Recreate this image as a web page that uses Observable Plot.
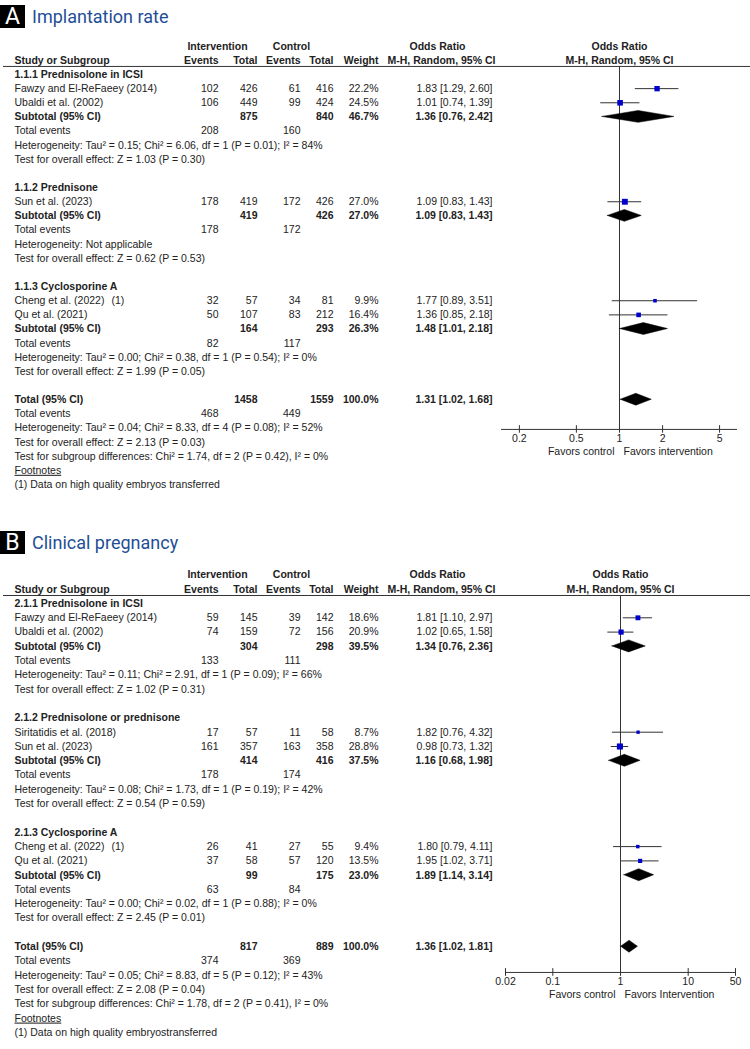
<!DOCTYPE html>
<html><head><meta charset="utf-8">
<script src="https://cdn.jsdelivr.net/npm/d3@7"></script>
<script src="https://cdn.jsdelivr.net/npm/@observablehq/plot@0.6"></script>
<style>
html,body{margin:0;padding:0;background:#fff;}
body{width:750px;height:1049px;position:relative;overflow:hidden;}
.abs{position:absolute;}
.title{position:absolute;left:0;height:23px;display:flex;align-items:center;}
.badge{width:25px;height:23px;background:#000;color:#fff;font:400 23px Roboto,sans-serif;display:flex;align-items:center;justify-content:center;line-height:23px;}
.ttext{margin-left:7px;color:#1f4e96;font:400 18px Roboto,sans-serif;white-space:nowrap;}
</style>
</head><body>
<script>
// ---------------- Panel A: Implantation rate ----------------
const groupsA = ["1.1.1 Prednisolone in ICSI", "1.1.2 Prednisone", "1.1.3 Cyclosporine A"];
const studiesA = ["Fawzy and El-ReFaeey (2014)", "Ubaldi et al. (2002)", "Sun et al. (2023)", "Cheng et al. (2022)", "Qu et al. (2021)"];
const studyGroupA = [0, 0, 1, 2, 2];
const studyNoteA = ["", "", "", "(1)", ""];
const intEventsA = [102, 106, 178, 32, 50];
const intTotalA = [426, 449, 419, 57, 107];
const ctlEventsA = [61, 99, 172, 34, 83];
const ctlTotalA = [416, 424, 426, 81, 212];
const weightA = [22.2, 24.5, 27.0, 9.9, 16.4];
const orA = [1.83, 1.01, 1.09, 1.77, 1.36];
const loA = [1.29, 0.74, 0.83, 0.89, 0.85];
const hiA = [2.60, 1.39, 1.43, 3.51, 2.18];
const subIntTotalA = [875, 419, 164];
const subCtlTotalA = [840, 426, 293];
const subWeightA = [46.7, 27.0, 26.3];
const subOrA = [1.36, 1.09, 1.48];
const subLoA = [0.76, 0.83, 1.01];
const subHiA = [2.42, 1.43, 2.18];
const subIntEventsA = [208, 178, 82];
const subCtlEventsA = [160, 172, 117];
const subHetA = [
  "Heterogeneity: Tau² = 0.15; Chi² = 6.06, df = 1 (P = 0.01); I² = 84%",
  "Heterogeneity: Not applicable",
  "Heterogeneity: Tau² = 0.00; Chi² = 0.38, df = 1 (P = 0.54); I² = 0%"];
const subTestA = [
  "Test for overall effect: Z = 1.03 (P = 0.30)",
  "Test for overall effect: Z = 0.62 (P = 0.53)",
  "Test for overall effect: Z = 1.99 (P = 0.05)"];
const totalCountsA = [1458, 1559];
const totalEffectA = [1.31, 1.02, 1.68];
const totalEventsA = [468, 449];
const totalTextsA = [
  "Heterogeneity: Tau² = 0.04; Chi² = 8.33, df = 4 (P = 0.08); I² = 52%",
  "Test for overall effect: Z = 2.13 (P = 0.03)",
  "Test for subgroup differences: Chi² = 1.74, df = 2 (P = 0.42), I² = 0%"];
const footnoteA = "(1) Data on high quality embryos transferred";
const ticksA = [0.2, 0.5, 1, 2, 5];
const favorsA = ["Favors control", "Favors intervention"];

// ---------------- Panel B: Clinical pregnancy ----------------
const groupsB = ["2.1.1 Prednisolone in ICSI", "2.1.2 Prednisolone or prednisone", "2.1.3 Cyclosporine A"];
const studiesB = ["Fawzy and El-ReFaeey (2014)", "Ubaldi et al. (2002)", "Siritatidis et al. (2018)", "Sun et al. (2023)", "Cheng et al. (2022)", "Qu et al. (2021)"];
const studyGroupB = [0, 0, 1, 1, 2, 2];
const studyNoteB = ["", "", "", "", "(1)", ""];
const intEventsB = [59, 74, 17, 161, 26, 37];
const intTotalB = [145, 159, 57, 357, 41, 58];
const ctlEventsB = [39, 72, 11, 163, 27, 57];
const ctlTotalB = [142, 156, 58, 358, 55, 120];
const weightB = [18.6, 20.9, 8.7, 28.8, 9.4, 13.5];
const orB = [1.81, 1.02, 1.82, 0.98, 1.80, 1.95];
const loB = [1.10, 0.65, 0.76, 0.73, 0.79, 1.02];
const hiB = [2.97, 1.58, 4.32, 1.32, 4.11, 3.71];
const subIntTotalB = [304, 414, 99];
const subCtlTotalB = [298, 416, 175];
const subWeightB = [39.5, 37.5, 23.0];
const subOrB = [1.34, 1.16, 1.89];
const subLoB = [0.76, 0.68, 1.14];
const subHiB = [2.36, 1.98, 3.14];
const subIntEventsB = [133, 178, 63];
const subCtlEventsB = [111, 174, 84];
const subHetB = [
  "Heterogeneity: Tau² = 0.11; Chi² = 2.91, df = 1 (P = 0.09); I² = 66%",
  "Heterogeneity: Tau² = 0.08; Chi² = 1.73, df = 1 (P = 0.19); I² = 42%",
  "Heterogeneity: Tau² = 0.00; Chi² = 0.02, df = 1 (P = 0.88); I² = 0%"];
const subTestB = [
  "Test for overall effect: Z = 1.02 (P = 0.31)",
  "Test for overall effect: Z = 0.54 (P = 0.59)",
  "Test for overall effect: Z = 2.45 (P = 0.01)"];
const totalCountsB = [817, 889];
const totalEffectB = [1.36, 1.02, 1.81];
const totalEventsB = [374, 369];
const totalTextsB = [
  "Heterogeneity: Tau² = 0.05; Chi² = 8.83, df = 5 (P = 0.12); I² = 43%",
  "Test for overall effect: Z = 2.08 (P = 0.04)",
  "Test for subgroup differences: Chi² = 1.78, df = 2 (P = 0.41), I² = 0%"];
const footnoteB = "(1) Data on high quality embryostransferred";
const ticksB = [0.02, 0.1, 1, 10, 50];
const favorsB = ["Favors control", "Favors Intervention"];

// shared header labels
const headerTop = ["Intervention", "Control", "Odds Ratio"];
const headerBottom = ["Study or Subgroup", "Events", "Total", "Events", "Total", "Weight", "M-H, Random, 95% CI"];

// ---------------- layout (pixels / row units) ----------------
const COL = {study: 14, note: 111, ie: 218, it: 257, ce: 300, ct: 333, w: 378, or: 492, intHead: 217, ctlHead: 291, orHead: 437};
const INK = "#222";

function buildRows(P) {
  const rows = [];
  let r = 0;
  P.groups.forEach((g, gi) => {
    rows.push({row: r++, label: g, bold: true});
    P.studies.forEach((s, i) => {
      if (P.studyGroup[i] !== gi) return;
      rows.push({row: r++, kind: "study", label: s, note: P.studyNote[i] || null,
        ie: P.intEvents[i], it: P.intTotal[i], ce: P.ctlEvents[i], ct: P.ctlTotal[i],
        w: P.weight[i], or: P.or[i], lo: P.lo[i], hi: P.hi[i], bold: false});
    });
    rows.push({row: r++, kind: "diamond", label: "Subtotal (95% CI)", it: P.subIntTotal[gi], ct: P.subCtlTotal[gi],
      w: P.subWeight[gi], or: P.subOr[gi], lo: P.subLo[gi], hi: P.subHi[gi], bold: true});
    rows.push({row: r++, label: "Total events", ie: P.subIntEvents[gi], ce: P.subCtlEvents[gi], bold: false});
    rows.push({row: r++, label: P.subHet[gi], bold: false});
    rows.push({row: r++, label: P.subTest[gi], bold: false});
    r++;
  });
  rows.push({row: r++, kind: "diamond", label: "Total (95% CI)", it: P.totalCounts[0], ct: P.totalCounts[1], w: 100,
    or: P.totalEffect[0], lo: P.totalEffect[1], hi: P.totalEffect[2], bold: true, total: true});
  rows.push({row: r++, label: "Total events", ie: P.totalEvents[0], ce: P.totalEvents[1], bold: false});
  P.totalTexts.forEach(t => rows.push({row: r++, label: t, bold: false}));
  rows.push({row: r++, label: "Footnotes", bold: false, underline: true});
  rows.push({row: r++, label: P.footnote, bold: false});
  return rows;
}

function drawPanel(P, L) {
  const rows = buildRows(P);
  const yScale = {domain: [0, L.nRows], range: [L.row0, L.row0 + L.rowH * L.nRows]};
  const style = {fontFamily: "'Liberation Sans', Arial, sans-serif", fontSize: "10.5px", color: INK, background: "transparent", overflow: "visible"};

  const txt = (field, xPos, anchor, fmt, bold) => Plot.text(
    rows.filter(d => d[field] != null && !!d.bold === bold),
    {x: () => xPos, y: "row", text: fmt, textAnchor: anchor, fontWeight: bold ? "bold" : "normal", fill: INK});
  const cols = [
    ["label", COL.study, "start", d => d.label],
    ["note", COL.note, "start", d => d.note],
    ["ie", COL.ie, "end", d => String(d.ie)],
    ["it", COL.it, "end", d => String(d.it)],
    ["ce", COL.ce, "end", d => String(d.ce)],
    ["ct", COL.ct, "end", d => String(d.ct)],
    ["w", COL.w, "end", d => d.w.toFixed(1) + "%"],
    ["or", COL.or, "end", d => `${d.or.toFixed(2)} [${d.lo.toFixed(2)}, ${d.hi.toFixed(2)}]`]
  ];
  const tableMarks = [];
  cols.forEach(([f, x, a, fmt]) => { tableMarks.push(txt(f, x, a, fmt, true)); tableMarks.push(txt(f, x, a, fmt, false)); });

  const headTop = [
    {t: P.headerTop[0], x: COL.intHead, a: "middle"},
    {t: P.headerTop[1], x: COL.ctlHead, a: "middle"},
    {t: P.headerTop[2], x: COL.orHead, a: "middle"}];
  const headBot = [
    {t: P.headerBottom[0], x: COL.study, a: "start"},
    {t: P.headerBottom[1], x: COL.ie, a: "end"},
    {t: P.headerBottom[2], x: COL.it, a: "end"},
    {t: P.headerBottom[3], x: COL.ce, a: "end"},
    {t: P.headerBottom[4], x: COL.ct, a: "end"},
    {t: P.headerBottom[5], x: COL.w, a: "end"},
    {t: P.headerBottom[6], x: COL.orHead + 4, a: "middle"}];

  const table = Plot.plot({
    width: 500, height: L.height, margin: 0,
    x: {type: "identity"}, y: yScale, axis: null, style,
    marks: [
      Plot.ruleY([L.hdrLine], {insetLeft: 3, stroke: "#333", strokeWidth: 1}),
      Plot.text(headTop.filter(d => d.a === "middle"), {x: "x", y: () => -2, text: "t", textAnchor: "middle", fontWeight: "bold", fill: INK}),
      Plot.text(headBot.filter(d => d.a === "start"), {x: "x", y: () => -1, text: "t", textAnchor: "start", fontWeight: "bold", fill: INK}),
      Plot.text(headBot.filter(d => d.a === "end"), {x: "x", y: () => -1, text: "t", textAnchor: "end", fontWeight: "bold", fill: INK}),
      Plot.text(headBot.filter(d => d.a === "middle"), {x: "x", y: () => -1, text: "t", textAnchor: "middle", fontWeight: "bold", fill: INK}),
      ...tableMarks
    ]
  });
  d3.select(table).selectAll("text").filter(function() { return this.textContent === "Footnotes"; })
    .attr("text-decoration", "underline");

  const studies = rows.filter(d => d.kind === "study");
  const diamonds = rows.filter(d => d.kind === "diamond");
  const diamondPts = diamonds.flatMap(d => [
    {id: d.row, x: d.lo, y1: d.row, y2: d.row},
    {id: d.row, x: d.or, y1: d.row - 0.42, y2: d.row + 0.42},
    {id: d.row, x: d.hi, y1: d.row, y2: d.row}]);
  const ax = L.axisRow;

  const forest = Plot.plot({
    width: 250, height: L.height, margin: 0,
    x: {type: "log", domain: L.xDomain, range: L.xRange},
    y: yScale,
    r: {type: "sqrt", domain: [0, 30], range: [0, 3.5]},
    axis: null, style,
    marks: [
      Plot.ruleY([L.hdrLine], {stroke: "#333", strokeWidth: 1}),
      Plot.text([P.headerTop[2]], {x: () => 1, y: () => -2, text: d => d, fontWeight: "bold", fill: INK}),
      Plot.text([P.headerBottom[6]], {x: () => 1, y: () => -1, text: d => d, fontWeight: "bold", fill: INK}),
      Plot.ruleX([1], {y1: L.hdrLine, y2: ax, stroke: "#333", strokeWidth: 1}),
      Plot.ruleY([ax], {x1: L.xDomain[0], x2: L.xDomain[1], stroke: "#333", strokeWidth: 1}),
      Plot.ruleX(P.ticks, {x: d => d, y1: ax - 0.27, y2: ax + 0.27, stroke: "#333", strokeWidth: 1}),
      Plot.text(P.ticks, {x: d => d, y: () => ax + 0.62, text: d => String(d), fill: INK}),
      Plot.text([P.favors[0]], {x: () => 1, y: () => ax + 1.55, text: d => d, textAnchor: "end", dx: -5, fill: INK}),
      Plot.text([P.favors[1]], {x: () => 1, y: () => ax + 1.55, text: d => d, textAnchor: "start", dx: 4, fill: INK}),
      Plot.ruleY(studies, {x1: "lo", x2: "hi", y: "row", stroke: "#333", strokeWidth: 1}),
      Plot.dot(studies, {x: "or", y: "row", r: "w", symbol: "square", fill: "#0000cc", stroke: "none"}),
      Plot.areaY(diamondPts, {x: "x", y1: "y1", y2: "y2", z: "id", fill: "#000", stroke: "#000", strokeWidth: 0.5})
    ]
  });

  const box = document.createElement("div");
  box.className = "abs";
  box.style.cssText = `left:0;top:${L.top}px;width:750px;height:${L.height}px;`;
  const a = document.createElement("div"); a.className = "abs"; a.style.cssText = `left:0;top:0;width:500px;height:${L.height}px;`; a.appendChild(table);
  const b = document.createElement("div"); b.className = "abs"; b.style.cssText = `left:500px;top:0;width:250px;height:${L.height}px;`; b.appendChild(forest);
  box.appendChild(a); box.appendChild(b);
  document.body.appendChild(box);

  const title = document.createElement("div");
  title.className = "title";
  title.style.top = L.titleTop + "px";
  title.innerHTML = `<div class="badge">${P.letter}</div><div class="ttext">${P.title}</div>`;
  document.body.appendChild(title);
}

const PA = {letter: "A", title: "Implantation rate", groups: groupsA, studies: studiesA, studyGroup: studyGroupA, studyNote: studyNoteA,
  intEvents: intEventsA, intTotal: intTotalA, ctlEvents: ctlEventsA, ctlTotal: ctlTotalA, weight: weightA, or: orA, lo: loA, hi: hiA,
  subIntTotal: subIntTotalA, subCtlTotal: subCtlTotalA, subWeight: subWeightA, subOr: subOrA, subLo: subLoA, subHi: subHiA,
  subIntEvents: subIntEventsA, subCtlEvents: subCtlEventsA, subHet: subHetA, subTest: subTestA,
  totalCounts: totalCountsA, totalEffect: totalEffectA, totalEvents: totalEventsA, totalTexts: totalTextsA, footnote: footnoteA,
  ticks: ticksA, favors: favorsA, headerTop, headerBottom};
const PB = {letter: "B", title: "Clinical pregnancy", groups: groupsB, studies: studiesB, studyGroup: studyGroupB, studyNote: studyNoteB,
  intEvents: intEventsB, intTotal: intTotalB, ctlEvents: ctlEventsB, ctlTotal: ctlTotalB, weight: weightB, or: orB, lo: loB, hi: hiB,
  subIntTotal: subIntTotalB, subCtlTotal: subCtlTotalB, subWeight: subWeightB, subOr: subOrB, subLo: subLoB, subHi: subHiB,
  subIntEvents: subIntEventsB, subCtlEvents: subCtlEventsB, subHet: subHetB, subTest: subTestB,
  totalCounts: totalCountsB, totalEffect: totalEffectB, totalEvents: totalEventsB, totalTexts: totalTextsB, footnote: footnoteB,
  ticks: ticksB, favors: favorsB, headerTop, headerBottom};

drawPanel(PA, {top: 30, height: 470, titleTop: 5, nRows: 30, row0: 44, rowH: 14.14, hdrLine: -0.57, axisRow: 25.1,
  xDomain: [0.15, 6.67], xRange: [1, 237]});
drawPanel(PB, {top: 560, height: 480, titleTop: 531, nRows: 30, row0: 43, rowH: 14.3, hdrLine: -0.56, axisRow: 25.8,
  xDomain: [0.02, 50], xRange: [5, 235]});
</script>
</body></html>
